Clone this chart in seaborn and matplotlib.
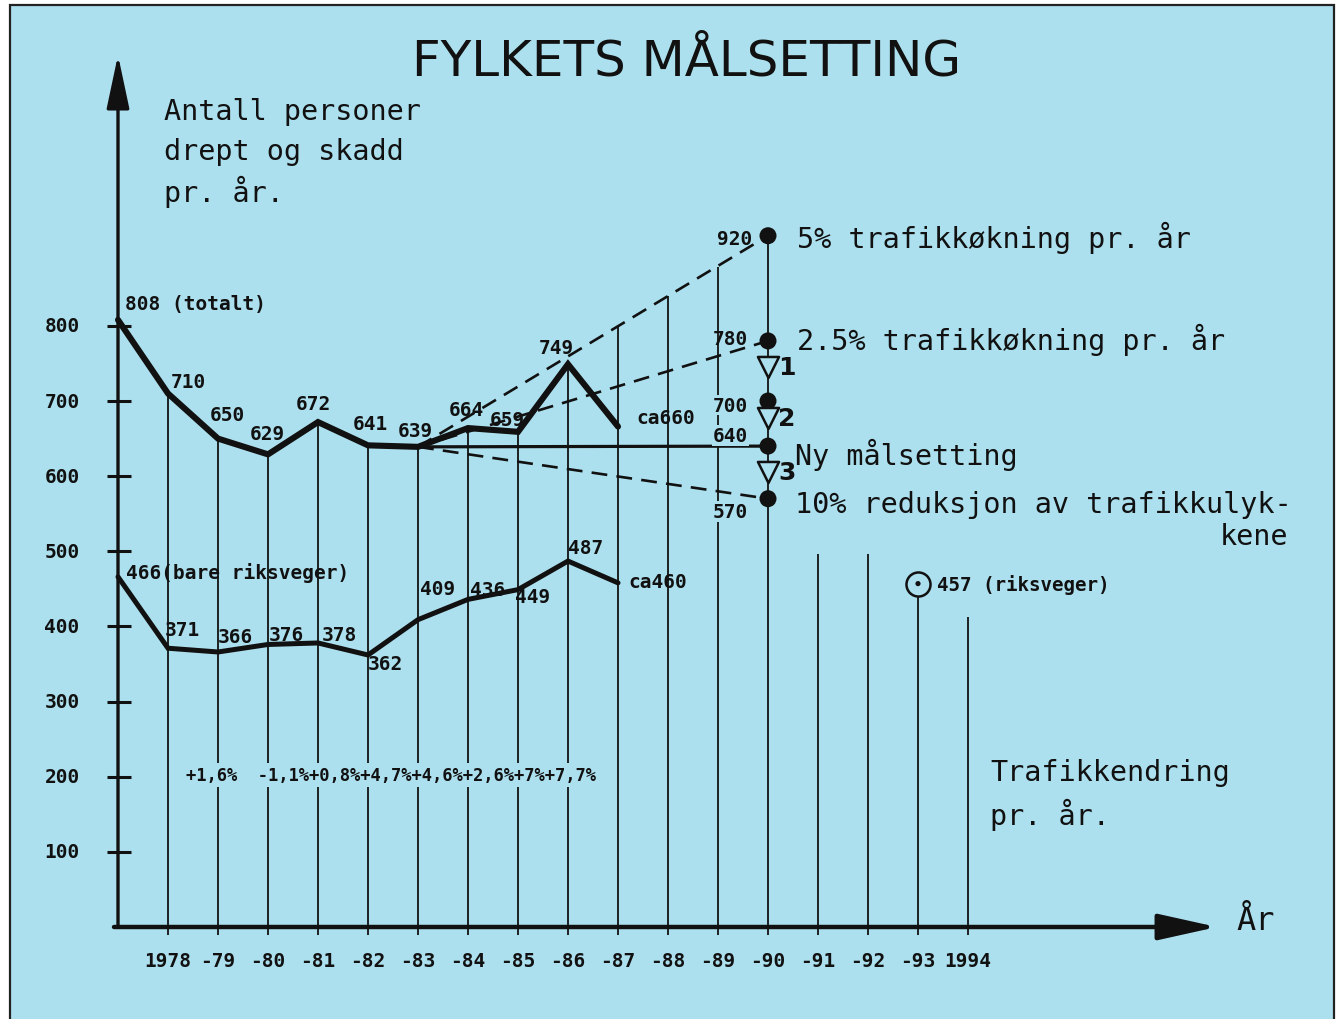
import numpy as np
import pandas as pd
import matplotlib
matplotlib.use("Agg")
import matplotlib.pyplot as plt
import seaborn as sns
from matplotlib.patches import Rectangle

# ---------------- data ----------------
years_hist = [1977, 1978, 1979, 1980, 1981, 1982, 1983, 1984, 1985, 1986, 1987]
total_values = [808, 710, 650, 629, 672, 641, 639, 664, 659, 749, 666]
total_labels = ["808 (totalt)", "710", "650", "629", "672", "641", "639", "664", "659", "749", "ca660"]
riks_values = [466, 371, 366, 376, 378, 362, 409, 436, 449, 487, 458]
riks_labels = ["466(bare riksveger)", "371", "366", "376", "378", "362", "409", "436", "449", "487", "ca460"]

base_year = 1983
base_value = 639
target_year = 1990
target_values = [920, 780, 700, 640, 570]
target_labels = ["920", "780", "700", "640", "570"]
target_texts = ["5% trafikkøkning pr. år", "2.5% trafikkøkning pr. år", "", "Ny målsetting",
                "10% reduksjon av trafikkulyk-"]
projection_targets = [920, 780, 640, 570]
projection_dashed = [True, True, False, True]

step_values = [745, 677, 606]
step_labels = ["1", "2", "3"]

riks_target_year = 1993
riks_target_value = 457
riks_target_label = "457 (riksveger)"

pct_labels = ["+1,6%", "-1,1%", "+0,8%", "+4,7%", "+4,6%", "+2,6%", "+7%", "+7,7%"]

tick_years = list(range(1978, 1995))
tick_labels = ["1978", "-79", "-80", "-81", "-82", "-83", "-84", "-85", "-86", "-87",
               "-88", "-89", "-90", "-91", "-92", "-93", "1994"]
ytick_values = [100, 200, 300, 400, 500, 600, 700, 800]
future_years = [1987, 1988, 1989, 1990, 1991, 1992, 1993, 1994]
future_line_tops = [800, 840, 878, 920, 496, 496, 442, 413]

# ---------------- layout helpers (pixel <-> data) ----------------
W, H = 1338, 1020
PX0, PXY = 118, 50.0      # x pixel of 1977, pixels per year
PY0, PYU = 928, 0.7514    # y pixel of value 0, pixels per unit


def X(px):
    return 1977 + (px - PX0) / PXY


def Y(py):
    return (PY0 - py) / PYU


BG = "#ade0ee"
MONO = "DejaVu Sans Mono"
sns.set_theme(style="white")
plt.rcParams["font.family"] = ["DejaVu Sans"]

fig = plt.figure(figsize=(W / 100, H / 100), dpi=100, facecolor="white")
fig.patches.append(Rectangle((10 / W, -0.01), (1334 - 10) / W, (H - 6) / H + 0.01,
                             transform=fig.transFigure, facecolor=BG, edgecolor="#222222",
                             linewidth=1.6, zorder=-5))
ax = fig.add_axes([0, 0, 1, 1])
ax.set_facecolor("none")
ax.patch.set_alpha(0)
ax.set_xlim(X(0), X(W))
ax.set_ylim(Y(H), Y(0))
ax.axis("off")

PT = 0.72  # points per pixel


def lbl(text, xy, dx, dy, ha="center", size=14, weight="bold", family=MONO, bbox=None, va="center"):
    ax.annotate(text, xy=xy, xytext=(dx * PT, dy * PT), textcoords="offset points",
                ha=ha, va=va, fontsize=size, fontweight=weight, family=family,
                color="#111111", bbox=bbox, zorder=6)


# ---------------- vertical year lines ----------------
grid_years = years_hist[1:-1] + future_years
grid_tops = total_values[1:-1] + future_line_tops
ax.vlines(grid_years, Y(936), grid_tops, color="#111111", lw=1.3, zorder=2)

# ---------------- axes with arrows ----------------
ax.annotate("", xy=(1977, Y(56)), xytext=(1977, Y(927)),
            arrowprops=dict(arrowstyle="-|>,head_length=3.3,head_width=0.7", lw=2.4,
                            color="#111111", mutation_scale=10, shrinkA=0, shrinkB=0), zorder=4)
ax.annotate("", xy=(X(1217), 0), xytext=(X(114), 0),
            arrowprops=dict(arrowstyle="-|>,head_length=3.6,head_width=0.8", lw=3.2,
                            color="#111111", mutation_scale=10, shrinkA=0, shrinkB=0), zorder=4)
ax.hlines(ytick_values, X(107), X(131), color="#111111", lw=2.2, zorder=4)
for v in ytick_values:
    ax.text(X(62), v, str(v), ha="center", va="center", fontsize=14, fontweight="bold",
            family=MONO, color="#111111")
for yr, t in zip(tick_years, tick_labels):
    ax.text(yr, Y(962), t, ha="center", va="center", fontsize=14, fontweight="bold",
            family=MONO, color="#111111")

# ---------------- projection lines ----------------
for tv, dashed in zip(projection_targets, projection_dashed):
    dfp = pd.DataFrame({"year": [base_year, target_year], "value": [base_value, tv]})
    if dashed:
        sns.lineplot(data=dfp, x="year", y="value", ax=ax, color="#111111", lw=1.9,
                     dashes=False, linestyle=(0, (6, 3.5)), zorder=3)
    else:
        sns.lineplot(data=dfp, x="year", y="value", ax=ax, color="#111111", lw=2.3, zorder=3)

# ---------------- historical series ----------------
df = pd.DataFrame({"year": years_hist, "total": total_values, "riks": riks_values})
sns.lineplot(data=df, x="year", y="total", ax=ax, color="#111111", lw=4.4, zorder=5,
             solid_joinstyle="miter")
sns.lineplot(data=df, x="year", y="riks", ax=ax, color="#111111", lw=3.6, zorder=5,
             solid_joinstyle="miter")

total_offsets = [(7, 16, "left"), (20, 12, "center"), (9, 24, "center"), (-1, 21, "center"),
                 (-5, 19, "center"), (2, 22, "center"), (-3, 16, "center"), (-2, 19, "center"),
                 (-11, 12, "center"), (-12, 17, "center"), (18, 9, "left")]
for yr, v, t, (dx, dy, ha) in zip(years_hist, total_values, total_labels, total_offsets):
    lbl(t, (yr, v), dx, dy, ha=ha)

riks_offsets = [(8, 5), (-3, 19), (0, 15), (1, 10), (4, 8), (0, -9), (2, 31), (2, 10),
                (-3, -7), (0, 14), (10, 1)]
for yr, v, t, (dx, dy) in zip(years_hist, riks_values, riks_labels, riks_offsets):
    lbl(t, (yr, v), dx, dy, ha="left")

# ---------------- 1990 targets ----------------
dft = pd.DataFrame({"year": [target_year] * len(target_values), "value": target_values})
sns.scatterplot(data=dft, x="year", y="value", ax=ax, color="#111111", s=150,
                edgecolor="none", zorder=7)
dfs = pd.DataFrame({"year": [target_year] * len(step_values), "value": step_values})
sns.scatterplot(data=dfs, x="year", y="value", ax=ax, marker="v", s=230,
                facecolor=BG, edgecolor="#111111", linewidth=1.8, zorder=7)
for v, t in zip(step_values, step_labels):
    lbl(t, (target_year, v), 10, 0, ha="left", size=18, family="DejaVu Sans")

mask = dict(boxstyle="square,pad=0.05", facecolor=BG, edgecolor="none")
target_offsets = [(-16, -3), (-20, 2), (-20, -4), (-20, 11), (-20, -13)]
for v, t, (dx, dy) in zip(target_values, target_labels, target_offsets):
    lbl(t, (target_year, v), dx, dy, ha="right", bbox=mask if t in ("700", "640", "570") else None)
text_offsets = [(29, -1), (29, 2), (0, 0), (27, -8), (27, -5)]
for v, t, (dx, dy) in zip(target_values, target_texts, text_offsets):
    if t:
        lbl(t, (target_year, v), dx, dy, ha="left", size=20.5, weight="normal")
ax.text(X(1288), Y(537), "kene", ha="right", va="center", fontsize=20.5, family=MONO,
        color="#111111")

# riksveger target 1993
dfr = pd.DataFrame({"year": [riks_target_year], "value": [riks_target_value]})
sns.scatterplot(data=dfr, x="year", y="value", ax=ax, marker="o", s=300, facecolor=BG,
                edgecolor="#111111", linewidth=1.8, zorder=7)
sns.scatterplot(data=dfr, x="year", y="value", ax=ax, marker="o", s=14, color="#111111",
                edgecolor="none", zorder=8)
lbl(riks_target_label, (riks_target_year, riks_target_value), 19, 0, ha="left", size=13.8)

# traffic change row
pct_text = pct_labels[0] + "  " + "".join(pct_labels[1:])
ax.text(X(186), Y(776), pct_text, ha="left", va="center", fontsize=12.3, fontweight="bold",
        family=MONO, color="#111111", bbox=dict(boxstyle="square,pad=0.15", facecolor=BG,
                                                edgecolor="none"), zorder=6)

# ---------------- free texts ----------------
for i, line in enumerate(["Antall personer", "drept og skadd", "pr. år."]):
    ax.text(X(164), Y(112 + 40 * i), line, ha="left", va="center", fontsize=20.5,
            family=MONO, color="#111111")
ax.text(X(990), Y(773), "Trafikkendring", ha="left", va="center", fontsize=20.5, family=MONO,
        color="#111111")
ax.text(X(990), Y(815), "pr. år.", ha="left", va="center", fontsize=20.5, family=MONO,
        color="#111111")
ax.text(X(1236), Y(922), "År", ha="left", va="center", fontsize=23, family=MONO,
        color="#111111")
ax.text(X(687), Y(62), "FYLKETS MÅLSETTING", ha="center", va="center", fontsize=36,
        family=["Liberation Sans Narrow", "DejaVu Sans"], color="#111111")

ax.set_xlim(X(0), X(W))
ax.set_ylim(Y(H), Y(0))
ax.axis("off")
fig.savefig("out.png", dpi=100, facecolor="white")
